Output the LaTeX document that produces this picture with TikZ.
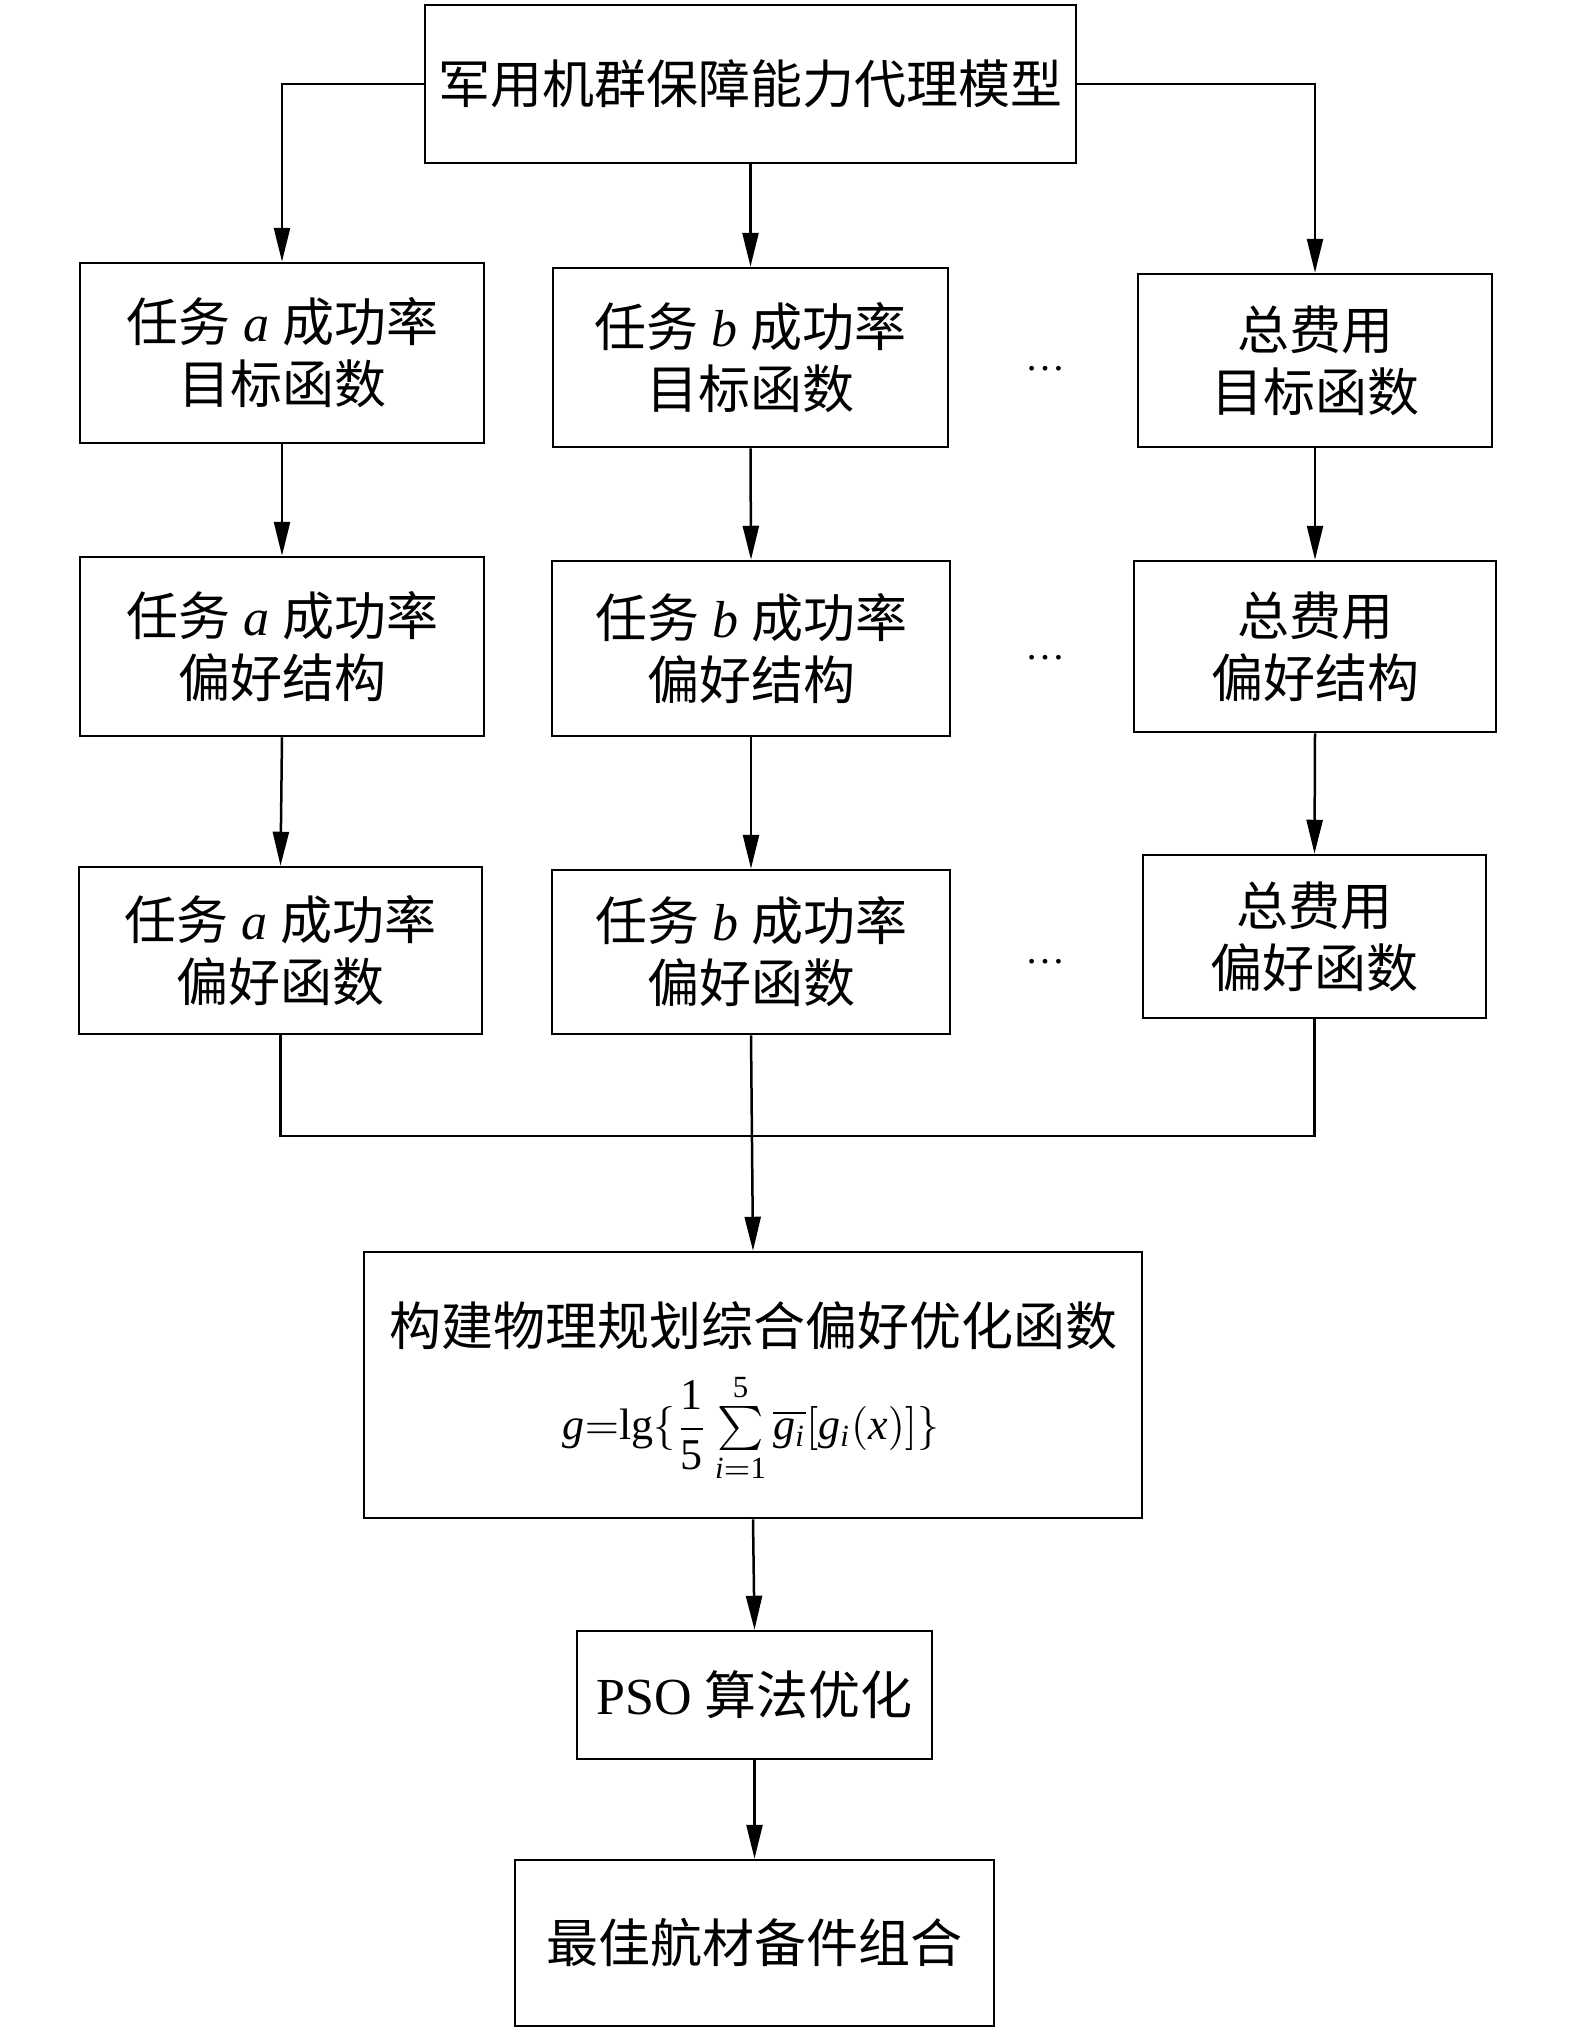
\documentclass[tikz,border=0pt]{standalone}
\usepackage{fontspec}
\usepackage{amsmath}
\usepackage{graphicx}
\setmainfont{Liberation Serif}
\newfontfamily\cjk{Noto Sans CJK SC}
\usetikzlibrary{arrows.meta}
\begin{document}
\begin{tikzpicture}[x=1pt,y=-1pt,
  box/.style={draw,line width=2.5pt,align=center,inner sep=0pt,font=\fontsize{52}{62}\selectfont},
  sz/.style n args={2}{minimum width=#1pt,minimum height=#2pt},
  txt/.style={align=center,inner sep=0pt,font=\fontsize{52}{62}\selectfont},
  arr/.style={line width=2.5pt,-{Triangle[length=34pt,width=16pt]}},
  ln/.style={line width=2.5pt},
  dots/.style={inner sep=0pt,font=\fontsize{40}{40}\selectfont}]
\useasboundingbox (0,0) rectangle (1575,2032);
% top
\node[box,sz={651}{158}] (top) at (750.5,84) {\cjk 军用机群保障能力代理模型};
% row 1
\node[box,sz={404}{180}] (r1a) at (282,353) {{\cjk 任务} \textit{a} {\cjk 成功率}\\{\cjk 目标函数}};
\node[box,sz={395}{179}] (r1b) at (750.5,357.5) {{\cjk 任务} \textit{b} {\cjk 成功率}\\{\cjk 目标函数}};
\node[box,sz={354}{173}] (r1c) at (1315,360.5) {{\cjk 总费用}\\{\cjk 目标函数}};
% row 2
\node[box,sz={404}{179}] (r2a) at (282,646.5) {{\cjk 任务} \textit{a} {\cjk 成功率}\\{\cjk 偏好结构}};
\node[box,sz={398}{175}] (r2b) at (751,648.5) {{\cjk 任务} \textit{b} {\cjk 成功率}\\{\cjk 偏好结构}};
\node[box,sz={362}{171}] (r2c) at (1315,646.5) {{\cjk 总费用}\\{\cjk 偏好结构}};
% row 3
\node[box,sz={403}{167}] (r3a) at (280.5,950.5) {{\cjk 任务} \textit{a} {\cjk 成功率}\\{\cjk 偏好函数}};
\node[box,sz={398}{164}] (r3b) at (751,952) {{\cjk 任务} \textit{b} {\cjk 成功率}\\{\cjk 偏好函数}};
\node[box,sz={343}{163}] (r3c) at (1314.5,936.5) {{\cjk 总费用}\\{\cjk 偏好函数}};
% dots
\node[dots] (d1) at (1045,369) {…};
\node[dots] (d2) at (1045,658) {…};
\node[dots] (d3) at (1045,962) {…};
% formula box
\node[box,sz={778}{266}] (form) at (753,1385) {};
\node[txt] (formt) at (753,1326) {\cjk 构建物理规划综合偏好优化函数};
\node[inner sep=0pt] (formf) at (751,1428)
  {\scalebox{4.4}{\fontsize{10}{12}\selectfont$\mathit{g}{=}\mathrm{lg}\{\dfrac{\mathrm{1}}{\mathrm{5}}\sum\limits_{\mathit{i}=\mathrm{1}}^{\mathrm{5}}\overline{\mathit{g}_{\mathit{i}}}[\mathit{g}_{\mathit{i}}(\mathit{x})]\}$}};
% PSO
\node[box,sz={355}{128}] (pso) at (754.5,1695) {PSO {\cjk 算法优化}};
\node[box,sz={479}{166}] (fin) at (754.5,1943) {\cjk 最佳航材备件组合};
% connectors
\draw[arr] (top.west) -| (r1a.north);
\draw[arr] (top.south) -- (r1b.north);
\draw[arr] (top.east) -| (r1c.north);
\draw[arr] (r1a.south) -- (r2a.north);
\draw[arr] (r1b.south) -- (r2b.north);
\draw[arr] (r1c.south) -- (r2c.north);
\draw[arr] (r2a.south) -- (r3a.north);
\draw[arr] (r2b.south) -- (r3b.north);
\draw[arr] (r2c.south) -- (r3c.north);
\coordinate (bus) at (751,1136);
\draw[ln] (r3a.south) |- (bus) -| (r3c.south);
\draw[arr] (r3b.south) -- (form.north);
\draw[arr] (form.south) -- (pso.north);
\draw[arr] (pso.south) -- (fin.north);
\end{tikzpicture}
\end{document}
